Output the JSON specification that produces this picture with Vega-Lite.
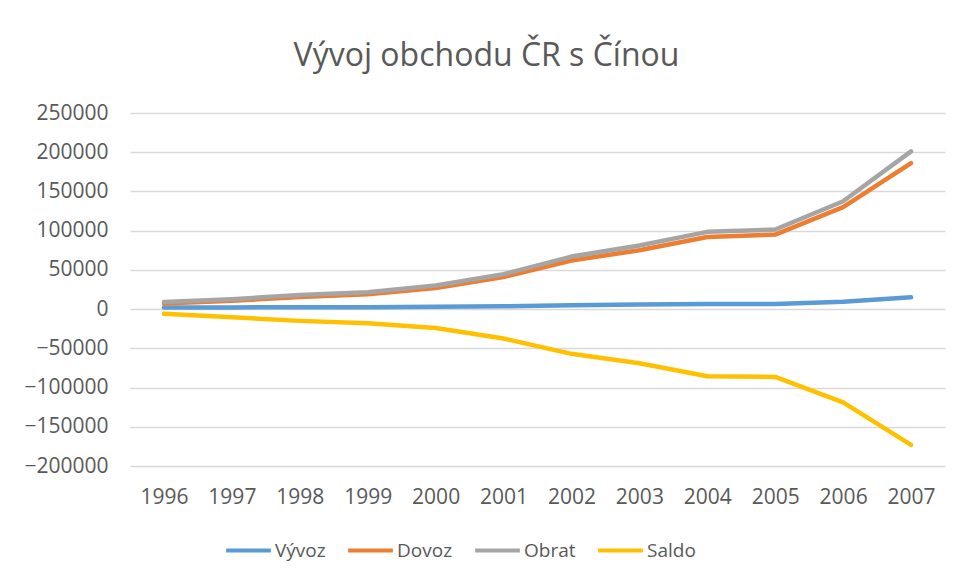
{
  "$schema": "https://vega.github.io/schema/vega-lite/v6.json",
  "autosize": {"type": "none"},
  "width": 815,
  "height": 353,
  "padding": {"left": 130, "top": 113, "right": 12, "bottom": 117},
  "background": "white",
  "title": {"text": "Vývoj obchodu ČR s Čínou", "fontSize": 32, "font": "Open Sans", "fontWeight": "normal", "color": "#595959", "anchor": "middle", "dx": -51, "offset": 29},
  "data": {"values": [
    {"rok": "1996", "rada": "Vývoz", "hodnota": 2000},
    {"rok": "1997", "rada": "Vývoz", "hodnota": 2200},
    {"rok": "1998", "rada": "Vývoz", "hodnota": 2500},
    {"rok": "1999", "rada": "Vývoz", "hodnota": 2400},
    {"rok": "2000", "rada": "Vývoz", "hodnota": 3000},
    {"rok": "2001", "rada": "Vývoz", "hodnota": 3500},
    {"rok": "2002", "rada": "Vývoz", "hodnota": 5000},
    {"rok": "2003", "rada": "Vývoz", "hodnota": 6000},
    {"rok": "2004", "rada": "Vývoz", "hodnota": 6500},
    {"rok": "2005", "rada": "Vývoz", "hodnota": 6500},
    {"rok": "2006", "rada": "Vývoz", "hodnota": 9500},
    {"rok": "2007", "rada": "Vývoz", "hodnota": 15000},
    {"rok": "1996", "rada": "Dovoz", "hodnota": 7000},
    {"rok": "1997", "rada": "Dovoz", "hodnota": 10500},
    {"rok": "1998", "rada": "Dovoz", "hodnota": 15500},
    {"rok": "1999", "rada": "Dovoz", "hodnota": 19000},
    {"rok": "2000", "rada": "Dovoz", "hodnota": 27000},
    {"rok": "2001", "rada": "Dovoz", "hodnota": 41000},
    {"rok": "2002", "rada": "Dovoz", "hodnota": 62000},
    {"rok": "2003", "rada": "Dovoz", "hodnota": 75000},
    {"rok": "2004", "rada": "Dovoz", "hodnota": 92000},
    {"rok": "2005", "rada": "Dovoz", "hodnota": 95000},
    {"rok": "2006", "rada": "Dovoz", "hodnota": 130000},
    {"rok": "2007", "rada": "Dovoz", "hodnota": 186000},
    {"rok": "1996", "rada": "Obrat", "hodnota": 9000},
    {"rok": "1997", "rada": "Obrat", "hodnota": 12700},
    {"rok": "1998", "rada": "Obrat", "hodnota": 18000},
    {"rok": "1999", "rada": "Obrat", "hodnota": 21400},
    {"rok": "2000", "rada": "Obrat", "hodnota": 30000},
    {"rok": "2001", "rada": "Obrat", "hodnota": 44500},
    {"rok": "2002", "rada": "Obrat", "hodnota": 67000},
    {"rok": "2003", "rada": "Obrat", "hodnota": 81000},
    {"rok": "2004", "rada": "Obrat", "hodnota": 98500},
    {"rok": "2005", "rada": "Obrat", "hodnota": 101500},
    {"rok": "2006", "rada": "Obrat", "hodnota": 137500},
    {"rok": "2007", "rada": "Obrat", "hodnota": 201000},
    {"rok": "1996", "rada": "Saldo", "hodnota": -6000},
    {"rok": "1997", "rada": "Saldo", "hodnota": -10500},
    {"rok": "1998", "rada": "Saldo", "hodnota": -15000},
    {"rok": "1999", "rada": "Saldo", "hodnota": -18000},
    {"rok": "2000", "rada": "Saldo", "hodnota": -24000},
    {"rok": "2001", "rada": "Saldo", "hodnota": -37500},
    {"rok": "2002", "rada": "Saldo", "hodnota": -57000},
    {"rok": "2003", "rada": "Saldo", "hodnota": -69000},
    {"rok": "2004", "rada": "Saldo", "hodnota": -85500},
    {"rok": "2005", "rada": "Saldo", "hodnota": -86500},
    {"rok": "2006", "rada": "Saldo", "hodnota": -119000},
    {"rok": "2007", "rada": "Saldo", "hodnota": -173000}
  ]},
  "mark": {"type": "line", "strokeWidth": 4.5, "strokeCap": "round", "strokeJoin": "round"},
  "encoding": {
    "x": {"field": "rok", "type": "ordinal", "scale": {"type": "point", "padding": 0.5},
      "axis": {"title": null, "labelAngle": 0, "domain": false, "ticks": false, "labelFontSize": 21, "labelFont": "Open Sans", "labelColor": "#595959", "labelPadding": 20, "grid": false}},
    "y": {"field": "hodnota", "type": "quantitative", "scale": {"domain": [-200000, 250000], "nice": false, "zero": false},
      "axis": {"title": null, "values": [-200000, -150000, -100000, -50000, 0, 50000, 100000, 150000, 200000, 250000], "format": "d", "domain": false, "ticks": false, "labelFontSize": 21, "labelFont": "Open Sans", "labelColor": "#595959", "labelPadding": 22, "gridColor": "#d9d9d9", "gridWidth": 1.3}},
    "color": {"field": "rada", "type": "nominal",
      "scale": {"domain": ["Vývoz", "Dovoz", "Obrat", "Saldo"], "range": ["#5B9BD5", "#ED7D31", "#A5A5A5", "#FFC000"]},
      "legend": {"title": null, "orient": "none", "direction": "horizontal", "legendX": 94, "legendY": 413, "symbolType": "stroke", "symbolSize": 2000, "symbolStrokeWidth": 4, "labelFontSize": 19, "labelFont": "Open Sans", "labelColor": "#595959", "columnPadding": 14, "labelOffset": 2, "gridAlign": "none"}},
    "order": {"field": "rada"}
  },
  "config": {"view": {"stroke": null}}
}
